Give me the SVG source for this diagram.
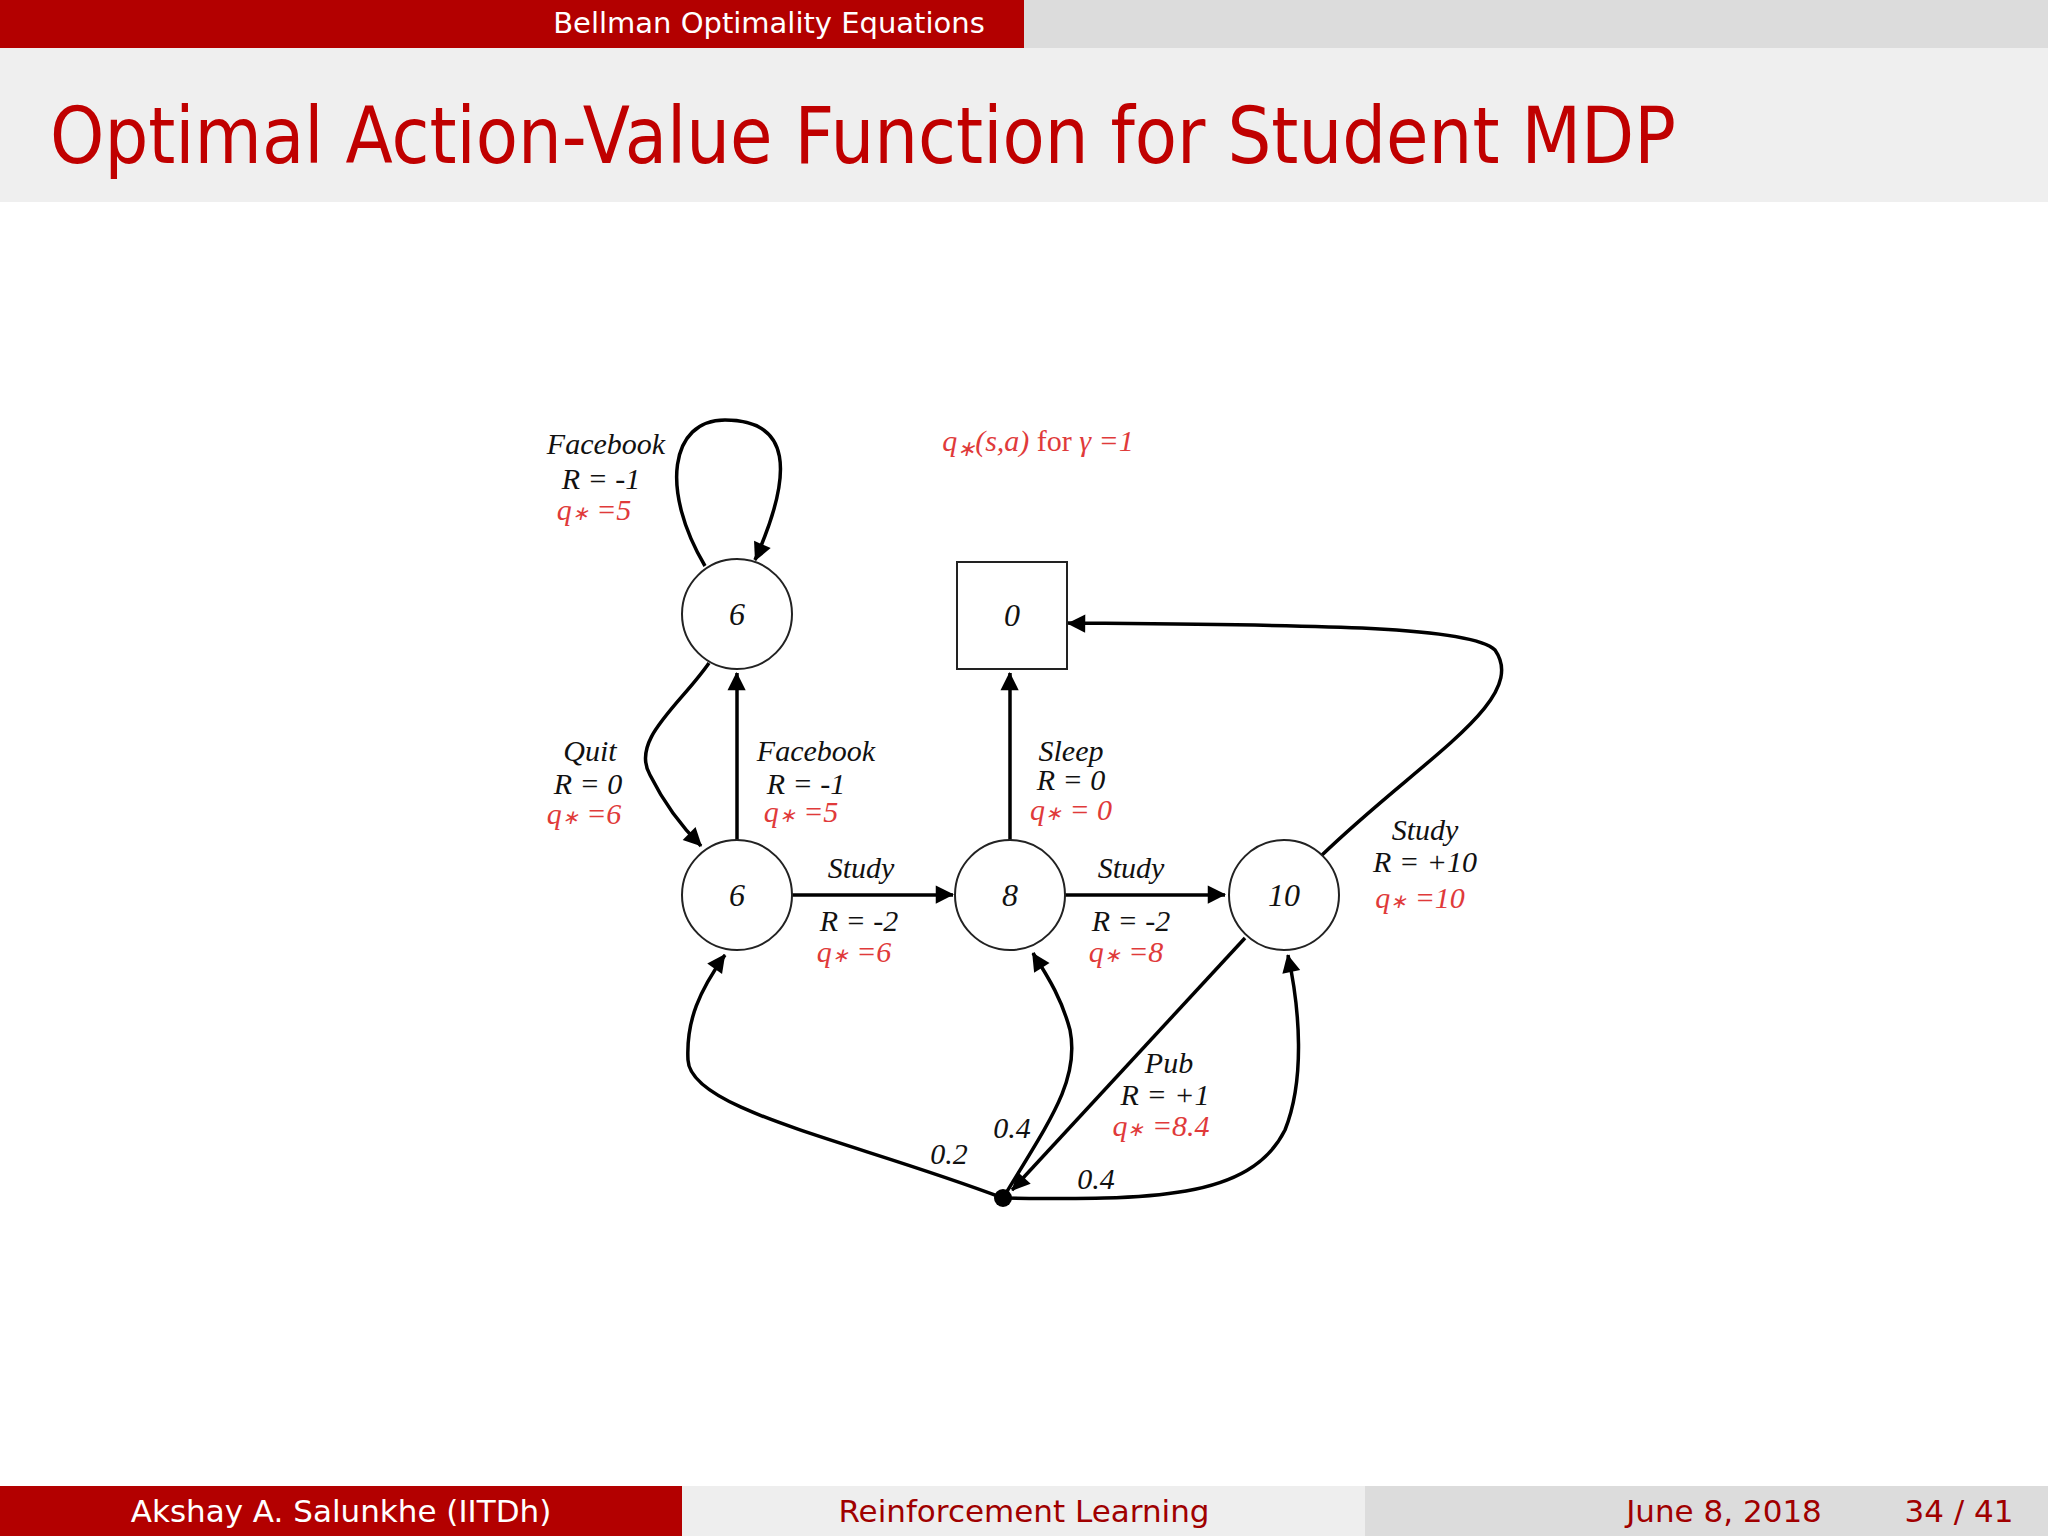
<svg xmlns="http://www.w3.org/2000/svg" width="2048" height="1536" viewBox="0 0 2048 1536">
<style>
.hd{font-family:"DejaVu Sans",sans-serif;font-size:29px;fill:#fff}
.ft{font-family:"DejaVu Sans",sans-serif;font-size:31px}
.l{font-family:"Liberation Serif",serif;font-style:italic;font-size:30px;fill:#111;text-anchor:middle}
.r{fill:#e03a3a}
.n{font-family:"Liberation Serif",serif;font-style:italic;font-size:32px;fill:#111;text-anchor:middle}
.nd{fill:#fff;stroke:#222;stroke-width:2}
.e{fill:none;stroke:#000;stroke-width:3.5;marker-end:url(#a)}
</style>
<defs><marker id="a" viewBox="0 0 10 10" refX="9" refY="5" markerWidth="7" markerHeight="7" markerUnits="userSpaceOnUse" orient="auto" style="overflow:visible"><path d="M0,0 L10,5 L0,10 z" transform="scale(2.6) translate(-6,-3.3)"/></marker></defs>
<rect x="0" y="0" width="1024" height="48" fill="#b30000"/>
<rect x="1024" y="0" width="1024" height="48" fill="#dcdcdc"/>
<text class="hd" x="769" y="33" text-anchor="middle">Bellman Optimality Equations</text>
<rect x="0" y="48" width="2048" height="154" fill="#efefef"/>
<text x="50" y="163" font-family="DejaVu Sans,sans-serif" font-size="78" fill="#c00000" textLength="1626" lengthAdjust="spacingAndGlyphs">Optimal Action-Value Function for Student MDP</text>
<g id="connectors">
<path class="e" d="M705,566 C660,490 670,420 725,420 C790,420 795,470 755,560"/>
<path class="e" d="M709,663 C680,705 630,740 650,775 C665,805 685,830 701,846"/>
<path class="e" d="M737,840 L737,673"/>
<path class="e" d="M791,895 L953,895"/>
<path class="e" d="M1010,840 L1010,673"/>
<path class="e" d="M1065,895 L1225,895"/>
<path class="e" d="M1322,855 C1420,760 1530,700 1495,650 C1470,625 1300,625 1068,623"/>
<path class="e" d="M1245,938 L1012,1190"/>
<path class="e" d="M1003,1198 C850,1140 690,1110 688,1060 C686,1020 700,990 725,955"/>
<path class="e" d="M1003,1198 C1050,1120 1080,1080 1070,1030 C1062,1000 1050,980 1033,953"/>
<path class="e" d="M1003,1198 C1150,1200 1250,1200 1285,1130 C1305,1080 1300,1010 1288,955"/>
</g>
<g id="n_fb"><circle class="nd" cx="737" cy="614" r="55"/><text class="n" x="737" y="625">6</text></g>
<g id="n_sleep"><rect class="nd" x="957" y="562" width="110" height="107"/><text class="n" x="1012" y="626">0</text></g>
<g id="n_c1"><circle class="nd" cx="737" cy="895" r="55"/><text class="n" x="737" y="906">6</text></g>
<g id="n_c2"><circle class="nd" cx="1010" cy="895" r="55"/><text class="n" x="1010" y="906">8</text></g>
<g id="n_c3"><circle class="nd" cx="1284" cy="895" r="55"/><text class="n" x="1284" y="906">10</text></g>
<g id="n_pub"><circle cx="1003" cy="1198" r="9" fill="#000"/></g>
<g id="labels">
<text class="l r" x="1038" y="451" font-size="35">q<tspan font-size="22" dy="5">∗</tspan><tspan dy="-5">(s,a) </tspan><tspan font-style="normal">for</tspan> γ =1</text>
<text class="l" x="606" y="454">Facebook</text><text class="l" x="601" y="489">R = -1</text><text class="l r" x="594" y="520">q<tspan font-size="20">∗</tspan> =5</text>
<text class="l" x="590" y="761">Quit</text><text class="l" x="588" y="794">R = 0</text><text class="l r" x="584" y="824">q<tspan font-size="20">∗</tspan> =6</text>
<text class="l" x="816" y="761">Facebook</text><text class="l" x="806" y="794">R = -1</text><text class="l r" x="801" y="822">q<tspan font-size="20">∗</tspan> =5</text>
<text class="l" x="1071" y="761">Sleep</text><text class="l" x="1071" y="790">R = 0</text><text class="l r" x="1071" y="820">q<tspan font-size="20">∗</tspan> = 0</text>
<text class="l" x="861" y="878">Study</text><text class="l" x="859" y="931">R = -2</text><text class="l r" x="854" y="962">q<tspan font-size="20">∗</tspan> =6</text>
<text class="l" x="1131" y="878">Study</text><text class="l" x="1131" y="931">R = -2</text><text class="l r" x="1126" y="962">q<tspan font-size="20">∗</tspan> =8</text>
<text class="l" x="1425" y="840">Study</text><text class="l" x="1425" y="872">R = +10</text><text class="l r" x="1420" y="908">q<tspan font-size="20">∗</tspan> =10</text>
<text class="l" x="1169" y="1073">Pub</text><text class="l" x="1165" y="1105">R = +1</text><text class="l r" x="1161" y="1136">q<tspan font-size="20">∗</tspan> =8.4</text>
<text class="l" x="949" y="1164" font-size="25">0.2</text>
<text class="l" x="1012" y="1138" font-size="25">0.4</text>
<text class="l" x="1096" y="1189" font-size="25">0.4</text>
</g>
<rect x="0" y="1486" width="682" height="50" fill="#b30000"/>
<rect x="682" y="1486" width="683" height="50" fill="#eeeeee"/>
<rect x="1365" y="1486" width="683" height="50" fill="#dcdcdc"/>
<text class="ft" x="341" y="1522" text-anchor="middle" fill="#fff">Akshay A. Salunkhe  (IITDh)</text>
<text class="ft" x="1024" y="1522" text-anchor="middle" fill="#a00000">Reinforcement Learning</text>
<text class="ft" x="1724" y="1522" text-anchor="middle" fill="#a00000">June 8, 2018</text>
<text class="ft" x="1959" y="1522" text-anchor="middle" fill="#a00000">34 / 41</text>
</svg>
